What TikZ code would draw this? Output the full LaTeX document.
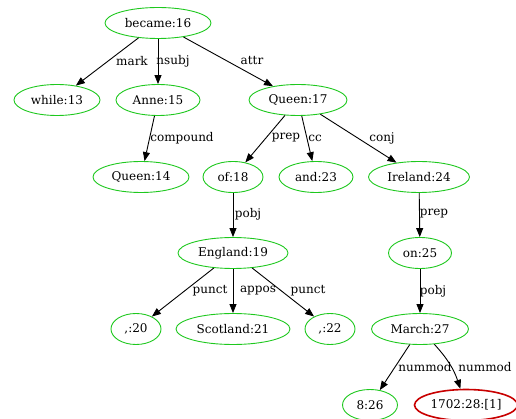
\documentclass[tikz,border=0pt]{standalone}
\usepackage{fontspec}
\setmainfont{DejaVu Serif}
\usetikzlibrary{shapes.geometric,arrows.meta}
\definecolor{gvgreen}{RGB}{30,200,30}
\definecolor{gvred}{RGB}{200,0,0}
\begin{document}
\begin{tikzpicture}[x=1pt,y=-1pt,
  tok/.style={ellipse,draw=gvgreen,line width=0.9pt,inner sep=0pt,font=\fontsize{12}{14}\selectfont,minimum height=31pt},
  redtok/.style={tok,draw=gvred,line width=1.6pt},
  edge/.style={-{Triangle[length=9pt,width=7pt]},line width=0.9pt},
  lab/.style={font=\fontsize{12}{14}\selectfont,inner sep=0pt}]
\useasboundingbox (0,0) rectangle (516,419);
\node[tok,minimum width=106pt] (became) at (158,23) {became:16};
\node[tok,minimum width=86pt] (while) at (57,100) {while:13};
\node[tok,minimum width=84pt] (anne) at (158,100) {Anne:15};
\node[tok,minimum width=98pt] (queen17) at (298,100) {Queen:17};
\node[tok,minimum width=96pt] (queen14) at (141,177) {Queen:14};
\node[tok,minimum width=60pt] (of) at (233,177) {of:18};
\node[tok,minimum width=74pt] (and) at (316,177) {and:23};
\node[tok,minimum width=101pt] (ireland) at (419,177) {Ireland:24};
\node[tok,minimum width=110pt] (england) at (233,253) {England:19};
\node[tok,minimum width=63pt] (on) at (420,253) {on:25};
\node[tok,minimum width=50pt] (c20) at (136,329) {,:20};
\node[tok,minimum width=114pt] (scotland) at (233,329) {Scotland:21};
\node[tok,minimum width=50pt] (c22) at (330,329) {,:22};
\node[tok,minimum width=97pt] (march) at (420,329) {March:27};
\node[tok,minimum width=55pt] (n26) at (370,405) {8:26};
\node[redtok,minimum width=103pt] (n28) at (466,405) {1702:28:[1]};

\draw[edge] (became) -- (while);
\draw[edge] (became) -- (anne);
\draw[edge] (became) -- (queen17);
\draw[edge] (anne) -- (queen14);
\draw[edge] (queen17) -- (of);
\draw[edge] (queen17) -- (and);
\draw[edge] (queen17) -- (ireland);
\draw[edge] (of) -- (england);
\draw[edge] (ireland) -- (on);
\draw[edge] (england) -- (c20);
\draw[edge] (england) -- (scotland);
\draw[edge] (england) -- (c22);
\draw[edge] (on) -- (march);
\draw[edge] (march) -- (n26);
\draw[edge] (march) to[bend left=12] (n28);

\node[lab] (l1) at (132,61) {mark};
\node[lab] (l2) at (173,61) {nsubj};
\node[lab] (l3) at (252,61) {attr};
\node[lab] (l4) at (182,138) {compound};
\node[lab] (l5) at (286,138) {prep};
\node[lab] (l6) at (315,138) {cc};
\node[lab] (l7) at (382,138) {conj};
\node[lab] (l8) at (248,214) {pobj};
\node[lab] (l9) at (434,214) {prep};
\node[lab] (l10) at (210,291) {punct};
\node[lab] (l11) at (258,291) {appos};
\node[lab] (l12) at (308,291) {punct};
\node[lab] (l13) at (433,291) {pobj};
\node[lab] (l14) at (425,367) {nummod};
\node[lab] (l15) at (485,367) {nummod};
\end{tikzpicture}
\end{document}
